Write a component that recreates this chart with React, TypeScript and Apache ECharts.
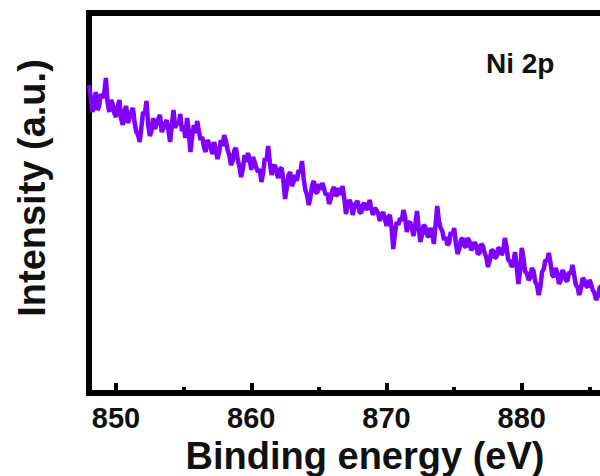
import React, { useEffect, useRef } from "react";
import * as echarts from "echarts";

// Binding energies (eV) of the scan
const bindingEnergy = [
  848, 848.125, 848.25, 848.375, 848.5, 848.625, 848.75, 848.875,
  849, 849.125, 849.25, 849.375, 849.5, 849.625, 849.75, 849.875,
  850, 850.125, 850.25, 850.375, 850.5, 850.625, 850.75, 850.875,
  851, 851.125, 851.25, 851.375, 851.5, 851.625, 851.75, 851.875,
  852, 852.125, 852.25, 852.375, 852.5, 852.625, 852.75, 852.875,
  853, 853.125, 853.25, 853.375, 853.5, 853.625, 853.75, 853.875,
  854, 854.125, 854.25, 854.375, 854.5, 854.625, 854.75, 854.875,
  855, 855.125, 855.25, 855.375, 855.5, 855.625, 855.75, 855.875,
  856, 856.125, 856.25, 856.375, 856.5, 856.625, 856.75, 856.875,
  857, 857.125, 857.25, 857.375, 857.5, 857.625, 857.75, 857.875,
  858, 858.125, 858.25, 858.375, 858.5, 858.625, 858.75, 858.875,
  859, 859.125, 859.25, 859.375, 859.5, 859.625, 859.75, 859.875,
  860, 860.125, 860.25, 860.375, 860.5, 860.625, 860.75, 860.875,
  861, 861.125, 861.25, 861.375, 861.5, 861.625, 861.75, 861.875,
  862, 862.125, 862.25, 862.375, 862.5, 862.625, 862.75, 862.875,
  863, 863.125, 863.25, 863.375, 863.5, 863.625, 863.75, 863.875,
  864, 864.125, 864.25, 864.375, 864.5, 864.625, 864.75, 864.875,
  865, 865.125, 865.25, 865.375, 865.5, 865.625, 865.75, 865.875,
  866, 866.125, 866.25, 866.375, 866.5, 866.625, 866.75, 866.875,
  867, 867.125, 867.25, 867.375, 867.5, 867.625, 867.75, 867.875,
  868, 868.125, 868.25, 868.375, 868.5, 868.625, 868.75, 868.875,
  869, 869.125, 869.25, 869.375, 869.5, 869.625, 869.75, 869.875,
  870, 870.125, 870.25, 870.375, 870.5, 870.625, 870.75, 870.875,
  871, 871.125, 871.25, 871.375, 871.5, 871.625, 871.75, 871.875,
  872, 872.125, 872.25, 872.375, 872.5, 872.625, 872.75, 872.875,
  873, 873.125, 873.25, 873.375, 873.5, 873.625, 873.75, 873.875,
  874, 874.125, 874.25, 874.375, 874.5, 874.625, 874.75, 874.875,
  875, 875.125, 875.25, 875.375, 875.5, 875.625, 875.75, 875.875,
  876, 876.125, 876.25, 876.375, 876.5, 876.625, 876.75, 876.875,
  877, 877.125, 877.25, 877.375, 877.5, 877.625, 877.75, 877.875,
  878, 878.125, 878.25, 878.375, 878.5, 878.625, 878.75, 878.875,
  879, 879.125, 879.25, 879.375, 879.5, 879.625, 879.75, 879.875,
  880, 880.125, 880.25, 880.375, 880.5, 880.625, 880.75, 880.875,
  881, 881.125, 881.25, 881.375, 881.5, 881.625, 881.75, 881.875,
  882, 882.125, 882.25, 882.375, 882.5, 882.625, 882.75, 882.875,
  883, 883.125, 883.25, 883.375, 883.5, 883.625, 883.75, 883.875,
  884, 884.125, 884.25, 884.375, 884.5, 884.625, 884.75, 884.875,
  885, 885.125, 885.25, 885.375, 885.5, 885.625, 885.75, 885.875,
  886,
];

// Intensity (a.u.)
const intensity = [
  308, 296, 281, 288, 301, 283, 287, 299,
  295, 300, 315, 290, 281, 293, 289, 280,
  276, 287, 293, 274, 268, 282, 287, 270,
  275, 281, 285, 270, 261, 258, 251, 266,
  281, 279, 292, 268, 257, 262, 275, 264,
  269, 274, 278, 261, 265, 270, 273, 262,
  251, 268, 283, 265, 271, 268, 279, 262,
  267, 255, 275, 262, 241, 256, 268, 260,
  272, 262, 253, 256, 246, 241, 253, 250,
  245, 239, 251, 244, 234, 241, 253, 247,
  258, 252, 243, 238, 228, 232, 243, 245,
  233, 226, 216, 224, 238, 231, 240, 234,
  223, 236, 231, 225, 221, 224, 211, 220,
  235, 232, 247, 230, 218, 226, 228, 220,
  215, 224, 225, 212, 194, 205, 218, 221,
  207, 211, 218, 212, 223, 220, 232, 214,
  203, 198, 188, 196, 208, 212, 201, 200,
  209, 203, 210, 205, 198, 200, 189, 194,
  203, 206, 197, 199, 205, 198, 207, 195,
  179, 188, 193, 190, 178, 186, 190, 192,
  181, 180, 188, 190, 183, 186, 193, 184,
  178, 185, 183, 180, 172, 178, 181, 174,
  167, 176, 178, 165, 144, 160, 171, 168,
  175, 172, 183, 176, 161, 170, 171, 164,
  157, 168, 182, 166, 151, 158, 168, 166,
  158, 156, 165, 160, 149, 168, 187, 172,
  165, 162, 153, 156, 148, 150, 161, 157,
  165, 150, 139, 144, 153, 155, 147, 146,
  155, 152, 143, 145, 151, 148, 139, 140,
  149, 147, 140, 136, 126, 132, 143, 142,
  135, 136, 145, 144, 138, 142, 155, 146,
  133, 132, 126, 130, 141, 126, 109, 122,
  145, 135, 121, 120, 113, 115, 125, 122,
  111, 108, 98, 106, 121, 124, 133, 132,
  140, 130, 118, 116, 125, 120, 109, 112,
  123, 120, 113, 112, 121, 119, 128, 118,
  108, 106, 98, 104, 115, 113, 107, 106,
  113, 109, 103, 100, 93, 97, 105, 107,
  101,
];

const majorTicks = [850, 860, 870, 880];
const minorTicks = [855, 865, 875, 885];

const FONT = "'Liberation Sans', Arial, sans-serif";

export default function App() {
  const ref = useRef<HTMLDivElement>(null);

  useEffect(() => {
    if (!ref.current) return;
    const chart = echarts.init(ref.current, null, { renderer: "svg" });
    const seriesData = bindingEnergy.map((e, i) => [e, intensity[i]]);

    chart.setOption({
      animation: false,
      backgroundColor: "#ffffff",
      title: {
        text: "Ni 2p",
        left: 481,
        top: 44,
        textStyle: { fontFamily: FONT, fontSize: 28, fontWeight: "bold", color: "#111" },
      },
      grid: {
        left: 89,
        top: 13,
        width: 568,
        height: 380,
        show: true,
        borderColor: "#000",
        borderWidth: 6,
        backgroundColor: "transparent",
        containLabel: false,
        outerBoundsMode: "none",
      },
      xAxis: [
        {
          type: "value",
          min: 848,
          max: 890,
          position: "bottom",
          name: "Binding energy (eV)",
          nameLocation: "middle",
          nameGap: 36,
          nameTextStyle: {
            fontFamily: FONT,
            fontSize: 38,
            fontWeight: "bold",
            color: "#111",
            padding: [0, 16, 0, 0],
          },
          axisLine: { show: false },
          axisTick: {
            show: true,
            inside: true,
            length: 10,
            customValues: majorTicks,
            lineStyle: { color: "#000", width: 4 },
          },
          axisLabel: {
            show: true,
            customValues: majorTicks,
            margin: 10,
            fontFamily: FONT,
            fontSize: 29,
            fontWeight: "bold",
            color: "#111",
          },
          splitLine: { show: false },
        },
        {
          type: "value",
          min: 848,
          max: 890,
          position: "bottom",
          offset: 0,
          axisLine: { show: false },
          axisTick: {
            show: true,
            inside: true,
            length: 6,
            customValues: minorTicks,
            lineStyle: { color: "#000", width: 4 },
          },
          axisLabel: { show: false },
          splitLine: { show: false },
        },
      ],
      yAxis: {
        type: "value",
        min: 0,
        max: 380,
        name: "Intensity (a.u.)",
        nameLocation: "middle",
        nameGap: 38,
        nameRotate: 90,
        nameTextStyle: {
          fontFamily: FONT,
          fontSize: 38,
          fontWeight: "bold",
          color: "#111",
          padding: [0, 0, 0, 30],
        },
        axisLine: { show: false },
        axisTick: { show: false },
        axisLabel: { show: false },
        splitLine: { show: false },
      },
      series: [
        {
          type: "line",
          xAxisIndex: 0,
          data: seriesData,
          showSymbol: false,
          symbol: "none",
          lineStyle: { color: "#7f00ff", width: 4.5 },
        },
      ],
    });

    return () => chart.dispose();
  }, []);

  return (
    <div
      ref={ref}
      style={{ position: "fixed", left: 0, top: 0, width: 600, height: 476, background: "#fff" }}
    />
  );
}
